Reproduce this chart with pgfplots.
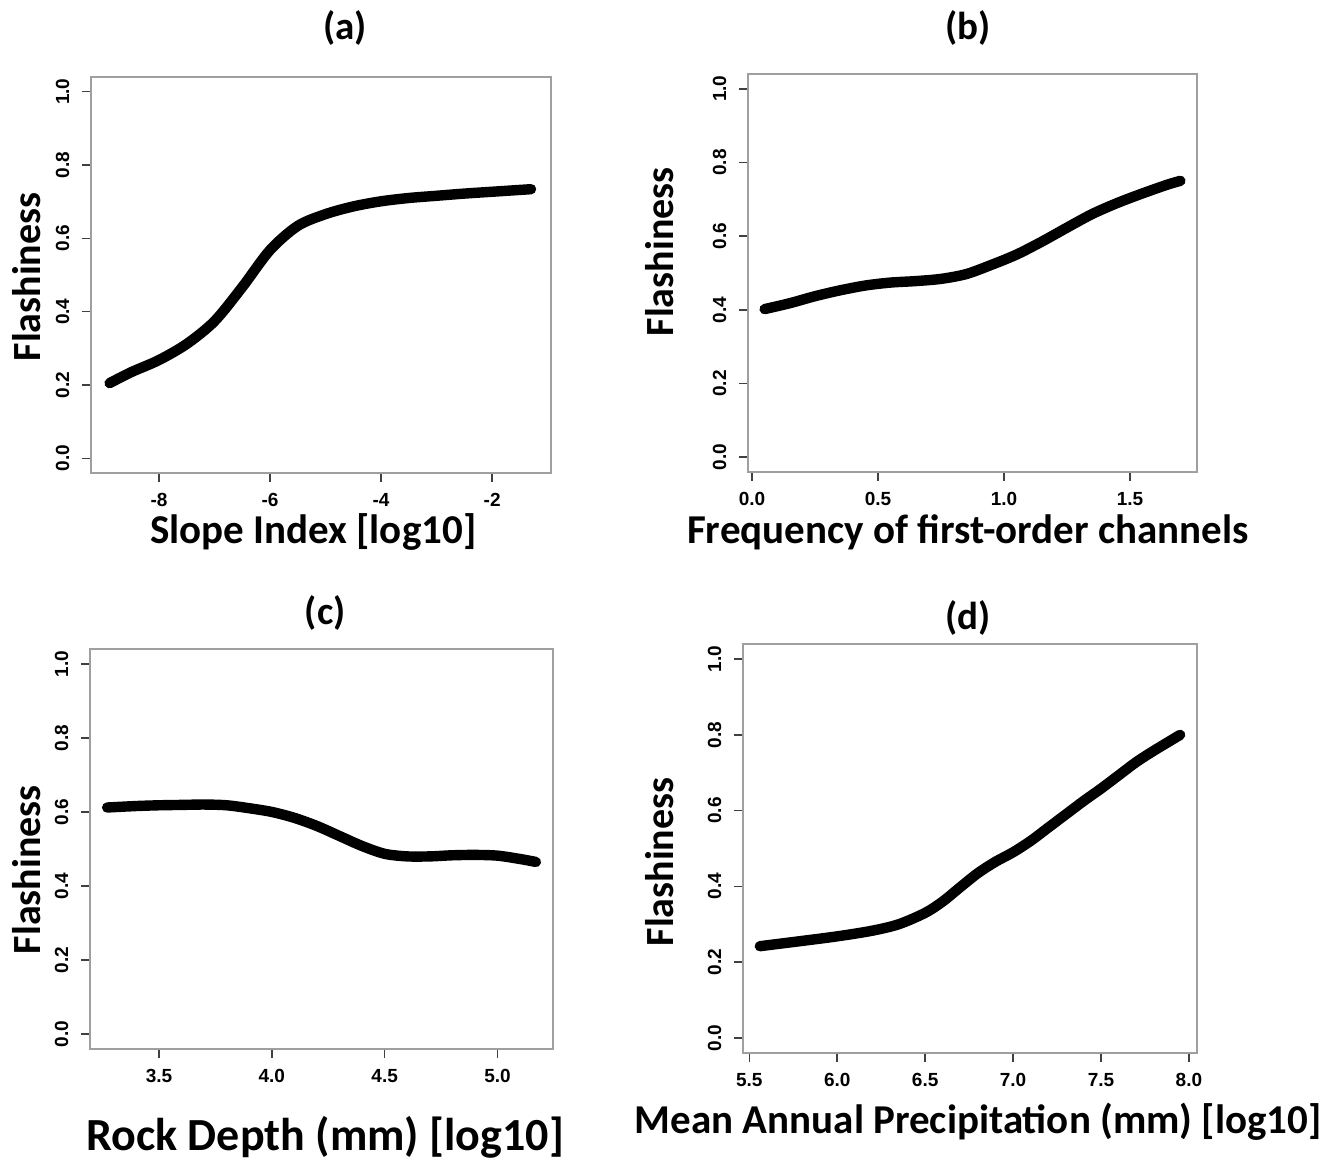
\documentclass[border=0pt]{standalone}
\usepackage{fontspec}
\setmainfont{Carlito}
\newfontfamily\tickfont{Liberation Sans}
\usepackage{pgfplots}
\pgfplotsset{compat=1.18}
\pgfplotsset{
  panel/.style={
    scale only axis,
    axis line style={draw=gray!75, line width=0.9pt},
    tick align=outside,
    xtick pos=left, ytick pos=left,
    major tick length=4.5pt,
    every tick/.style={black!75, line width=0.8pt},
    tick label style={font=\tickfont\fontsize{9.5}{11}\selectfont\bfseries},
    ymin=-0.04, ymax=1.04,
    ytick={0,0.2,0.4,0.6,0.8,1.0},
    yticklabels={0.0,0.2,0.4,0.6,0.8,1.0},
    yticklabel style={rotate=90, anchor=south},
    yticklabel shift=2.8pt,
    xticklabel shift=2.0pt,
    every axis title/.style={font=\fontsize{19.5}{23}\selectfont\bfseries, anchor=center},
    xlabel style={font=\fontsize{20.5}{24}\selectfont\bfseries, anchor=center},
    ylabel style={font=\fontsize{20}{24}\selectfont\bfseries, anchor=center},
    ylabel={Flashiness},
  },
  curve/.style={black, line width=5.2pt, line cap=round, line join=round, smooth}
}
\begin{document}
\begin{tikzpicture}
\path[use as bounding box] (0,0) rectangle (670.5pt,580pt);
% (a)
\begin{axis}[panel, at={(45.5pt,343.5pt)}, anchor=south west, width=230pt, height=198pt,
  xmin=-9.225, xmax=-0.94, xtick={-8,-6,-4,-2}, xticklabels={-8,-6,-4,-2},
  title={(a)}, title style={at={(axis description cs:0.552,1.124)}},
  xlabel={Slope Index [log10]}, xlabel style={at={(axis description cs:0.483,-0.149)}},
  ylabel style={at={(axis description cs:-0.139,0.495)}}]
\addplot[curve] coordinates {
(-8.89,0.205) (-8.5,0.235) (-8.0,0.268) (-7.5,0.312) (-7.0,0.374) (-6.5,0.467)
(-6.0,0.568) (-5.5,0.634) (-5.0,0.666) (-4.5,0.687) (-4.0,0.701) (-3.5,0.710)
(-3.0,0.716) (-2.5,0.722) (-2.0,0.727) (-1.3,0.734)};
\end{axis}
% (b)
\begin{axis}[panel, at={(374pt,344pt)}, anchor=south west, width=224.5pt, height=199pt,
  xmin=-0.016, xmax=1.766, xtick={0,0.5,1.0,1.5}, xticklabels={0.0,0.5,1.0,1.5},
  title={(b)}, title style={at={(axis description cs:0.49,1.116)}},
  xlabel={Frequency of first-order channels}, xlabel style={at={(axis description cs:0.49,-0.151)}},
  ylabel style={at={(axis description cs:-0.196,0.553)}}]
\addplot[curve] coordinates {
(0.05,0.402) (0.15,0.418) (0.25,0.437) (0.35,0.453) (0.45,0.466) (0.55,0.474)
(0.65,0.478) (0.75,0.484) (0.85,0.497) (0.95,0.522) (1.05,0.550) (1.15,0.585)
(1.25,0.623) (1.35,0.660) (1.45,0.690) (1.55,0.716) (1.65,0.740) (1.70,0.750)};
\end{axis}
% (c)
\begin{axis}[panel, at={(45pt,55.5pt)}, anchor=south west, width=231.5pt, height=200pt,
  xmin=3.194, xmax=5.246, xtick={3.5,4.0,4.5,5.0}, xticklabels={3.5,4.0,4.5,5.0},
  title={(c)}, title style={at={(axis description cs:0.508,1.09)}},
  xlabel={Rock Depth (mm) [log10]}, xlabel style={font=\fontsize{23}{27}\selectfont\bfseries, at={(axis description cs:0.508,-0.22)}},
  ylabel style={at={(axis description cs:-0.136,0.448)}}]
\addplot[curve] coordinates {
(3.27,0.612) (3.4,0.616) (3.5,0.618) (3.6,0.619) (3.7,0.620) (3.8,0.618)
(3.9,0.610) (4.0,0.600) (4.1,0.584) (4.2,0.562) (4.3,0.535) (4.4,0.508)
(4.5,0.487) (4.6,0.480) (4.7,0.480) (4.8,0.483) (4.9,0.484) (5.0,0.482)
(5.1,0.473) (5.17,0.465)};
\end{axis}
% (d)
\begin{axis}[panel, at={(371.5pt,53.5pt)}, anchor=south west, width=227pt, height=204.5pt,
  xmin=5.464, xmax=8.046, xtick={5.5,6.0,6.5,7.0,7.5,8.0}, xticklabels={5.5,6.0,6.5,7.0,7.5,8.0},
  title={(d)}, title style={at={(axis description cs:0.496,1.064)}},
  xlabel={Mean Annual Precipitation (mm) [log10]}, xlabel style={at={(axis description cs:0.518,-0.169)}},
  ylabel style={at={(axis description cs:-0.183,0.467)}}]
\addplot[curve] coordinates {
(5.56,0.242) (5.75,0.253) (6.0,0.268) (6.2,0.283) (6.35,0.300) (6.5,0.330)
(6.6,0.360) (6.7,0.398) (6.8,0.435) (6.9,0.465) (7.0,0.490) (7.1,0.520)
(7.2,0.555) (7.3,0.590) (7.4,0.625) (7.5,0.658) (7.6,0.693) (7.7,0.728)
(7.8,0.758) (7.95,0.800)};
\end{axis}
\end{tikzpicture}
\end{document}
